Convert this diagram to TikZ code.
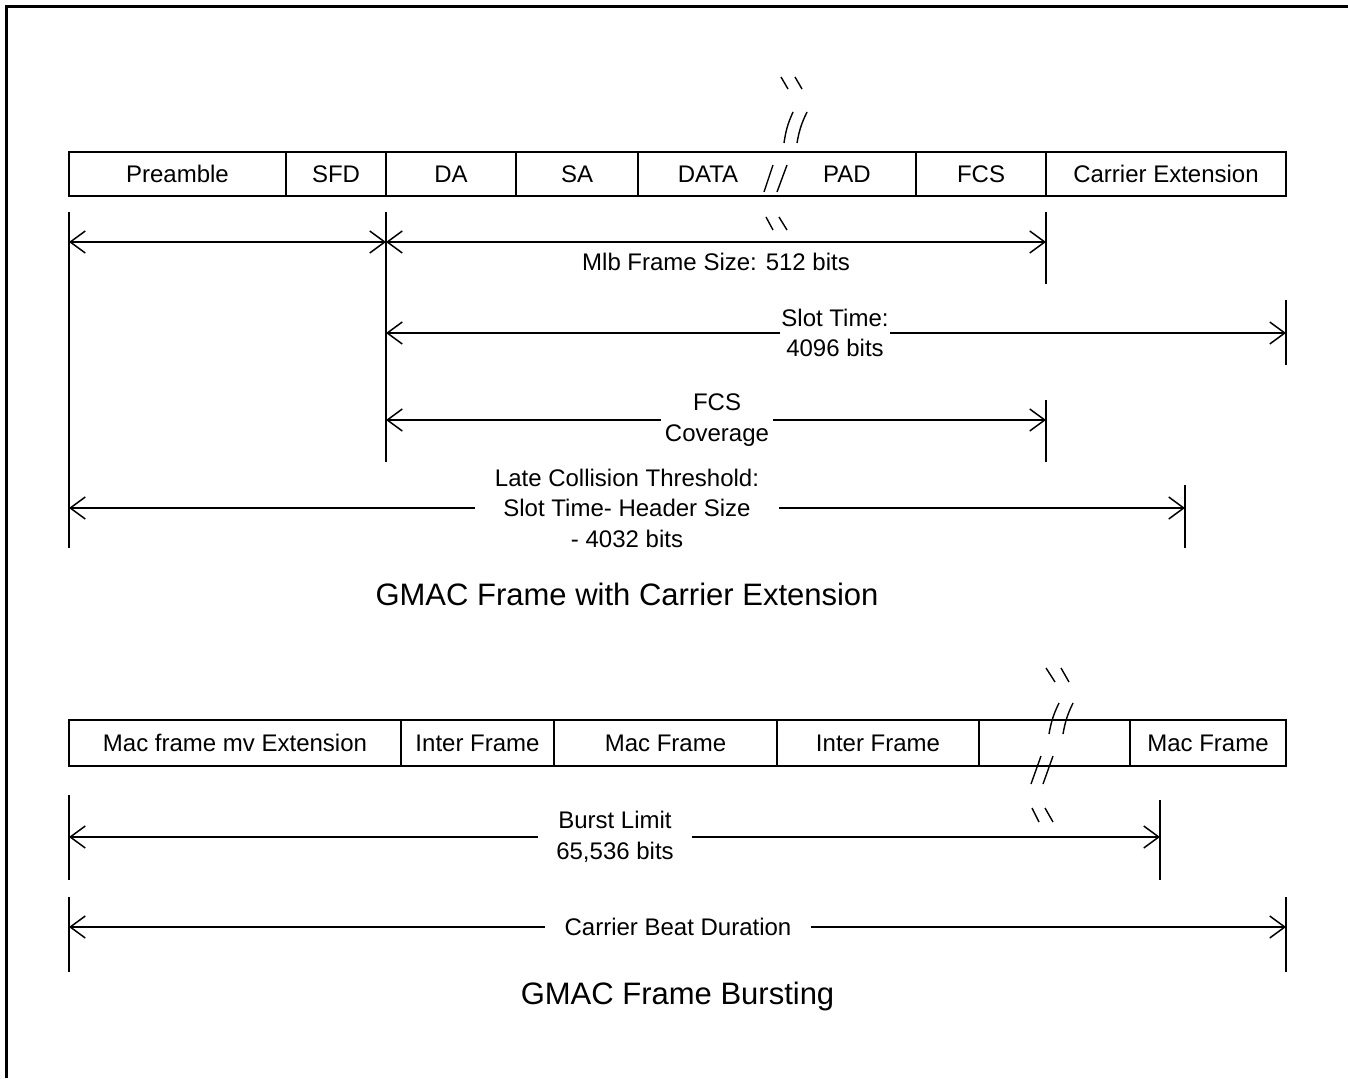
\documentclass[tikz,border=0pt]{standalone}
\usepackage{fontspec}
\setmainfont{Liberation Sans}
\usetikzlibrary{arrows.meta}
\newcommand\lbl{\fontsize{24}{30.5}\selectfont}
\newcommand\ttl{\fontsize{31}{38}\selectfont}
\tikzset{
  cell/.style={draw, line width=1.5pt, inner sep=0pt, font=\lbl, text height=17.2pt, text depth=0pt},
  celltxt/.style={inner sep=0pt, font=\lbl, text height=17.2pt, text depth=0pt},
  dim/.style={line width=1.5pt, {Straight Barb[length=15pt,width=22pt]}-{Straight Barb[length=15pt,width=22pt]}},
  tick/.style={line width=1.5pt},
  lab/.style={fill=white, align=center, font=\lbl, inner ysep=1pt},
  brk/.style={line width=1.4pt},
}
\begin{document}
\begin{tikzpicture}[x=1pt,y=-1pt]
\useasboundingbox (0,0) rectangle (1348,1078);
% border
\draw[line width=3pt] (6,1078) -- (6,7) -- (1348,7);

% ---------- Frame 1 ----------
\node[cell, minimum width=217pt, minimum height=44pt] (pre) at (177.5,174) {Preamble};
\node[cell, minimum width=100pt, minimum height=44pt] (sfd) at (336,174) {SFD};
\node[cell, minimum width=130pt, minimum height=44pt] (da) at (451,174) {DA};
\node[cell, minimum width=122pt, minimum height=44pt] (sa) at (577,174) {SA};
\node[cell, minimum width=278pt, minimum height=44pt] (dp) at (777,174) {};
\node[celltxt] (data) at (708,174) {DATA};
\node[celltxt] (pad) at (847,174) {PAD};
\node[cell, minimum width=130pt, minimum height=44pt] (fcs) at (981,174) {FCS};
\node[cell, minimum width=240pt, minimum height=44pt] (ce) at (1166,174) {Carrier Extension};

% break marks frame 1
\draw[brk] (781,77) -- (788,89);
\draw[brk] (795,77) -- (802,89);
\draw[brk] (784,143) to[bend left=8] (793,112);
\draw[brk] (797,143) to[bend left=8] (807,112);
\draw[brk] (764,192) -- (773,165);
\draw[brk] (777,192) -- (787,165);
\draw[brk] (766,217) -- (773,230);
\draw[brk] (779,217) -- (787,230);

% ticks
\coordinate (ta1) at (69,212);   \coordinate (ta2) at (69,548);
\coordinate (tb1) at (386,212);  \coordinate (tb2) at (386,462);
\coordinate (tc1) at (1046,212); \coordinate (tc2) at (1046,284);
\coordinate (td1) at (1286,300); \coordinate (td2) at (1286,365);
\coordinate (te1) at (1046,400); \coordinate (te2) at (1046,462);
\coordinate (tf1) at (1185,485); \coordinate (tf2) at (1185,548);
\draw[tick] (ta1) -- (ta2);
\draw[tick] (tb1) -- (tb2);
\draw[tick] (tc1) -- (tc2);
\draw[tick] (td1) -- (td2);
\draw[tick] (te1) -- (te2);
\draw[tick] (tf1) -- (tf2);

% dimension arrows
\coordinate (h1a) at (69,242);  \coordinate (h1b) at (386,242); \coordinate (h1c) at (1046,242);
\draw[dim] (h1a) -- (h1b);
\draw[dim] (h1b) -- (h1c);
\node[font=\lbl, inner sep=1pt] (mlb) at (716,262) {Mlb Frame Size: 512 bits};

\coordinate (h2a) at (386,333); \coordinate (h2b) at (1286,333);
\draw[dim] (h2a) -- (h2b);
\node[lab, inner xsep=1pt] (slot) at (835,333) {Slot Time:\\4096 bits};

\coordinate (h3a) at (386,420); \coordinate (h3b) at (1046,420);
\draw[dim] (h3a) -- (h3b);
\node[lab, inner xsep=4pt] (fcscov) at (717,420) {FCS\\Coverage};

\coordinate (h4a) at (69,508); \coordinate (h4b) at (1185,508);
\draw[dim] (h4a) -- (h4b);
\node[lab, inner xsep=20pt] (late) at (627,508) {Late Collision Threshold:\\Slot Time- Header Size\\- 4032 bits};

\node[font=\ttl] (title1) at (627,594) {GMAC Frame with Carrier Extension};

% ---------- Frame 2 ----------
\node[cell, minimum width=332pt, minimum height=46pt] (m1) at (235,743) {Mac frame mv Extension};
\node[cell, minimum width=153pt, minimum height=46pt] (i1) at (477.5,743) {Inter Frame};
\node[cell, minimum width=223pt, minimum height=46pt] (m2) at (665.5,743) {Mac Frame};
\node[cell, minimum width=202pt, minimum height=46pt] (i2) at (878,743) {Inter Frame};
\node[cell, minimum width=151pt, minimum height=46pt] (gap) at (1054.5,743) {};
\node[cell, minimum width=156pt, minimum height=46pt] (m3) at (1208,743) {Mac Frame};

% break marks frame 2
\draw[brk] (1046,668) -- (1055,682);
\draw[brk] (1061,668) -- (1069,682);
\draw[brk] (1049,734) to[bend left=8] (1059,703);
\draw[brk] (1063,734) to[bend left=8] (1073,703);
\draw[brk] (1031,784) -- (1041,756);
\draw[brk] (1043,784) -- (1053,756);
\draw[brk] (1032,808) -- (1039,822);
\draw[brk] (1045,808) -- (1053,822);

% ticks
\coordinate (tg1) at (69,795);   \coordinate (tg2) at (69,880);
\coordinate (th1) at (1160,800); \coordinate (th2) at (1160,880);
\coordinate (ti1) at (69,897);   \coordinate (ti2) at (69,972);
\coordinate (tj1) at (1286,897); \coordinate (tj2) at (1286,972);
\draw[tick] (tg1) -- (tg2);
\draw[tick] (th1) -- (th2);
\draw[tick] (ti1) -- (ti2);
\draw[tick] (tj1) -- (tj2);

\coordinate (h5a) at (69,837); \coordinate (h5b) at (1160,837);
\draw[dim] (h5a) -- (h5b);
\node[lab, inner xsep=18pt] (burst) at (615,837) {Burst Limit\\65,536 bits};

\coordinate (h6a) at (69,927); \coordinate (h6b) at (1286,927);
\draw[dim] (h6a) -- (h6b);
\node[lab, inner xsep=20pt] (cbd) at (678,927) {Carrier Beat Duration};

\node[font=\ttl] (title2) at (677.5,996) {GMAC Frame Bursting};
\end{tikzpicture}
\end{document}
